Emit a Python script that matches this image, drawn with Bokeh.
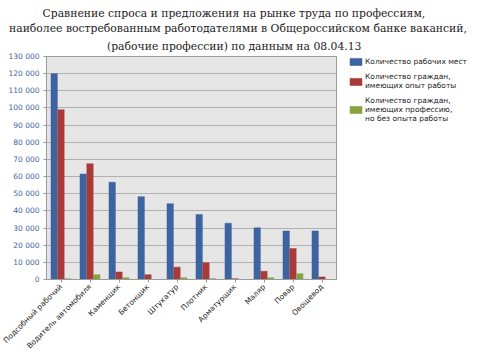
import math
from bokeh.plotting import figure
from bokeh.models import FactorRange, Legend, LegendItem, FixedTicker, ColumnDataSource, Title
from bokeh.transform import dodge
from bokeh.embed import file_html
from bokeh.resources import INLINE

title_lines = [
    "Сравнение спроса и предложения на рынке труда по профессиям,",
    "наиболее востребованным работодателями в Общероссийском банке вакансий,",
    "(рабочие профессии) по данным на 08.04.13",
]
categories = ["Подсобный рабочий", "Водитель автомобиля", "Каменщик", "Бетонщик",
              "Штукатур", "Плотник", "Арматурщик", "Маляр", "Повар", "Овощевод"]
vacancies = [120000, 61500, 56700, 48300, 44200, 37900, 32800, 30100, 28300, 28300]
experienced = [99000, 67500, 4400, 2800, 7200, 9700, 500, 4800, 18000, 1500]
no_experience = [500, 2800, 1000, 0, 1000, 500, 0, 1000, 3400, 0]
series_names = ["Количество рабочих мест",
                "Количество граждан,\nимеющих опыт работы",
                "Количество граждан,\nимеющих профессию,\nно без опыта работы"]
series_colors = ["#3d64a0", "#a83a3a", "#86a33e"]
y_ticks = list(range(0, 130001, 10000))

p = figure(frame_width=290, frame_height=223, x_range=FactorRange(factors=categories),
           y_range=(0, 130000), output_backend="svg", toolbar_location=None,
           min_border_left=46, min_border_right=130, min_border_top=56,
           min_border_bottom=65)
p.background_fill_color = "#e6e6e6"
p.border_fill_color = "white"
p.outline_line_color = "#9a9a9a"

# left offsets (relative to frame left) so each line is centred on the page
title_offsets = [-4, -37.5, 60.5]
title_standoffs = [0, 0, 7]
for txt, off, so in reversed(list(zip(title_lines, title_offsets, title_standoffs))):
    p.add_layout(Title(text=txt, align="left", offset=off, standoff=so,
                       text_font="DejaVu Serif", text_font_size="10.8px",
                       text_font_style="normal", text_color="#222222",
                       text_line_height=1.2), "above")

source = ColumnDataSource(dict(cat=categories, v=vacancies, e=experienced, n=no_experience))
renderers = []
for col, off, color in zip(["v", "e", "n"], [-0.235, 0.0, 0.235], series_colors):
    r = p.vbar(x=dodge("cat", off, range=p.x_range), top=col, width=0.22,
               source=source, fill_color=color, line_color=color, line_width=0.5)
    renderers.append(r)

legend = Legend(items=[LegendItem(label=n, renderers=[r]) for n, r in zip(series_names, renderers)],
                location=(12, 156), glyph_width=15, glyph_height=9,
                label_text_font_size="7.5px", label_text_font="DejaVu Sans",
                label_text_color="#222222", label_text_line_height=1.02,
                spacing=6, padding=0, margin=0,
                border_line_color=None, background_fill_alpha=0,
                label_standoff=2, label_height=9)
p.add_layout(legend, "right")

p.yaxis.ticker = FixedTicker(ticks=y_ticks)
p.yaxis.major_label_overrides = {t: f"{t:,}".replace(",", " ") for t in y_ticks}
p.yaxis.major_label_text_color = "#3d64a0"
p.yaxis.major_label_text_font = "DejaVu Sans"
p.yaxis.major_label_text_font_size = "7.5px"
p.yaxis.major_label_standoff = 4
p.yaxis.major_tick_out = 3
p.yaxis.major_tick_in = 0
p.yaxis.minor_tick_line_color = None
p.yaxis.axis_line_color = "#9a9a9a"
p.yaxis.major_tick_line_color = "#9a9a9a"

p.xaxis.major_label_orientation = math.pi / 4
p.xaxis.major_label_text_font = "DejaVu Sans"
p.xaxis.major_label_text_font_size = "7.5px"
p.xaxis.major_label_text_color = "#222222"
p.xaxis.major_label_standoff = 3
p.xaxis.axis_line_color = "#9a9a9a"
p.xaxis.major_tick_line_color = "#9a9a9a"
p.xaxis.major_tick_out = 3
p.xaxis.major_tick_in = 0

p.xgrid.grid_line_color = None
p.ygrid.grid_line_color = "#b0b0b0"
p.ygrid.grid_line_width = 1

open("out.html", "w").write(file_html(p, INLINE))
